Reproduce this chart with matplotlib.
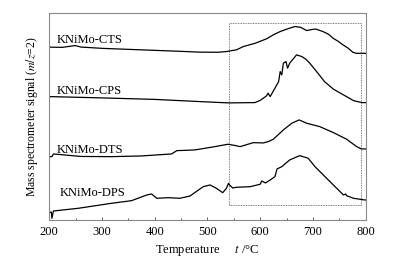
import matplotlib
matplotlib.use('Agg')
import matplotlib.pyplot as plt
from matplotlib.patches import Rectangle
from matplotlib.ticker import MultipleLocator

plt.rcParams['font.family'] = ['Liberation Serif', 'DejaVu Serif']
plt.rcParams['mathtext.fontset'] = 'stix'

# signal traces (offset units, arbitrary)
cts_t = [200, 225, 249, 260, 300, 350, 400, 450, 486, 520, 536, 555, 568,
         590, 612, 625, 638, 652, 666, 677, 688, 700, 706, 719, 730, 738,
         748, 757, 766, 776, 783, 792, 800]
cts_y = [172.7, 172.5, 174.3, 172.8, 171.5, 170.5, 169.5, 168.5, 167.7,
         167.6, 168.3, 170.0, 173.3, 176.5, 181.0, 185.0, 188.3, 191.0,
         193.3, 192.5, 189.3, 190.5, 190.7, 188.3, 185.5, 181.7, 178.5,
         175.0, 172.0, 167.5, 166.5, 166.6, 166.5]

cps_t = [200, 300, 400, 486, 540, 590, 600, 606, 612, 615, 619, 624, 628,
         635, 638, 641, 644, 649, 652, 656, 662, 669, 679, 687, 694, 707,
         722, 739, 758, 777, 787, 793, 800]
cps_y = [123.3, 122.0, 120.5, 118.3, 117.0, 117.3, 119.5, 121.7, 124.0,
         126.7, 123.3, 128.0, 131.7, 138.3, 148.3, 145.0, 156.7, 158.3,
         151.7, 156.7, 160.5, 165.0, 163.3, 160.5, 156.7, 148.3, 138.3,
         130.7, 125.0, 119.3, 118.0, 117.3, 117.3]

dts_t = [200, 205, 208, 260, 318, 375, 432, 442, 476, 514, 539, 552, 562,
         587, 606, 615, 625, 644, 660, 674, 688, 713, 739, 764, 783, 792, 800]
dts_y = [63.3, 63.3, 66.0, 63.5, 63.3, 64.0, 66.0, 69.3, 70.0, 73.3, 75.7,
         74.5, 73.3, 77.3, 77.0, 78.3, 80.7, 90.0, 96.7, 100.0, 96.7, 93.3,
         87.3, 80.7, 73.3, 71.0, 71.0]

dps_t = [200, 204, 205, 208, 255, 318, 356, 385, 394, 404, 426, 448, 467,
         492, 505, 517, 529, 536, 540, 541, 548, 555, 581, 600, 603, 610,
         619, 628, 632, 641, 656, 675, 691, 704, 723, 742, 758, 762, 764,
         777, 799, 800]
dps_y = [7.3, 8.0, 1.7, 9.0, 11.7, 16.7, 19.3, 25.0, 26.0, 21.7, 22.3, 21.7,
         24.0, 33.3, 35.0, 31.7, 27.3, 31.7, 36.7, 35.5, 32.0, 32.7, 33.3,
         35.7, 39.0, 37.0, 40.0, 43.3, 51.0, 53.3, 60.0, 64.3, 61.7, 53.3,
         43.3, 33.3, 25.0, 26.0, 24.3, 21.7, 20.0, 20.0]

labels = ['KNiMo-CTS', 'KNiMo-CPS', 'KNiMo-DTS', 'KNiMo-DPS']
label_x = [215, 215, 215, 219]
label_y = [180, 129.3, 70, 26.7]

fig = plt.figure(figsize=(3.97, 2.67), dpi=100)
ax = fig.add_axes([0.124, 0.176, 0.797, 0.776])

for t, y in [(cts_t, cts_y), (cps_t, cps_y), (dts_t, dts_y), (dps_t, dps_y)]:
    ax.plot(t, y, color='black', linewidth=0.9)

for name, lx, ly in zip(labels, label_x, label_y):
    ax.text(lx, ly, name, fontsize=9, va='center', ha='left')

# dotted box around the high-temperature region
ax.add_patch(Rectangle((540, 15), 252, 181.7, fill=False, linestyle=(0, (1, 1)),
                       linewidth=0.6, edgecolor='#555555'))

ax.set_xlim(200, 800)
ax.set_ylim(0, 207)
ax.xaxis.set_major_locator(MultipleLocator(100))
ax.xaxis.set_minor_locator(MultipleLocator(50))
ax.tick_params(axis='x', which='major', direction='in', length=2.5, width=0.6,
               labelsize=9, pad=4, color='#444444')
ax.tick_params(axis='x', which='minor', direction='in', length=1.5, width=0.6,
               color='#444444')
ax.set_yticks([])
for s in ax.spines.values():
    s.set_color('#888888')
    s.set_linewidth(0.8)

ax.set_xlabel('Temperature     $t$ /°C', fontsize=9, labelpad=4)
ax.set_ylabel('Mass spectrometer signal ($m/z$=2)', fontsize=8.5, labelpad=7)

fig.savefig('out.png', dpi=100)
